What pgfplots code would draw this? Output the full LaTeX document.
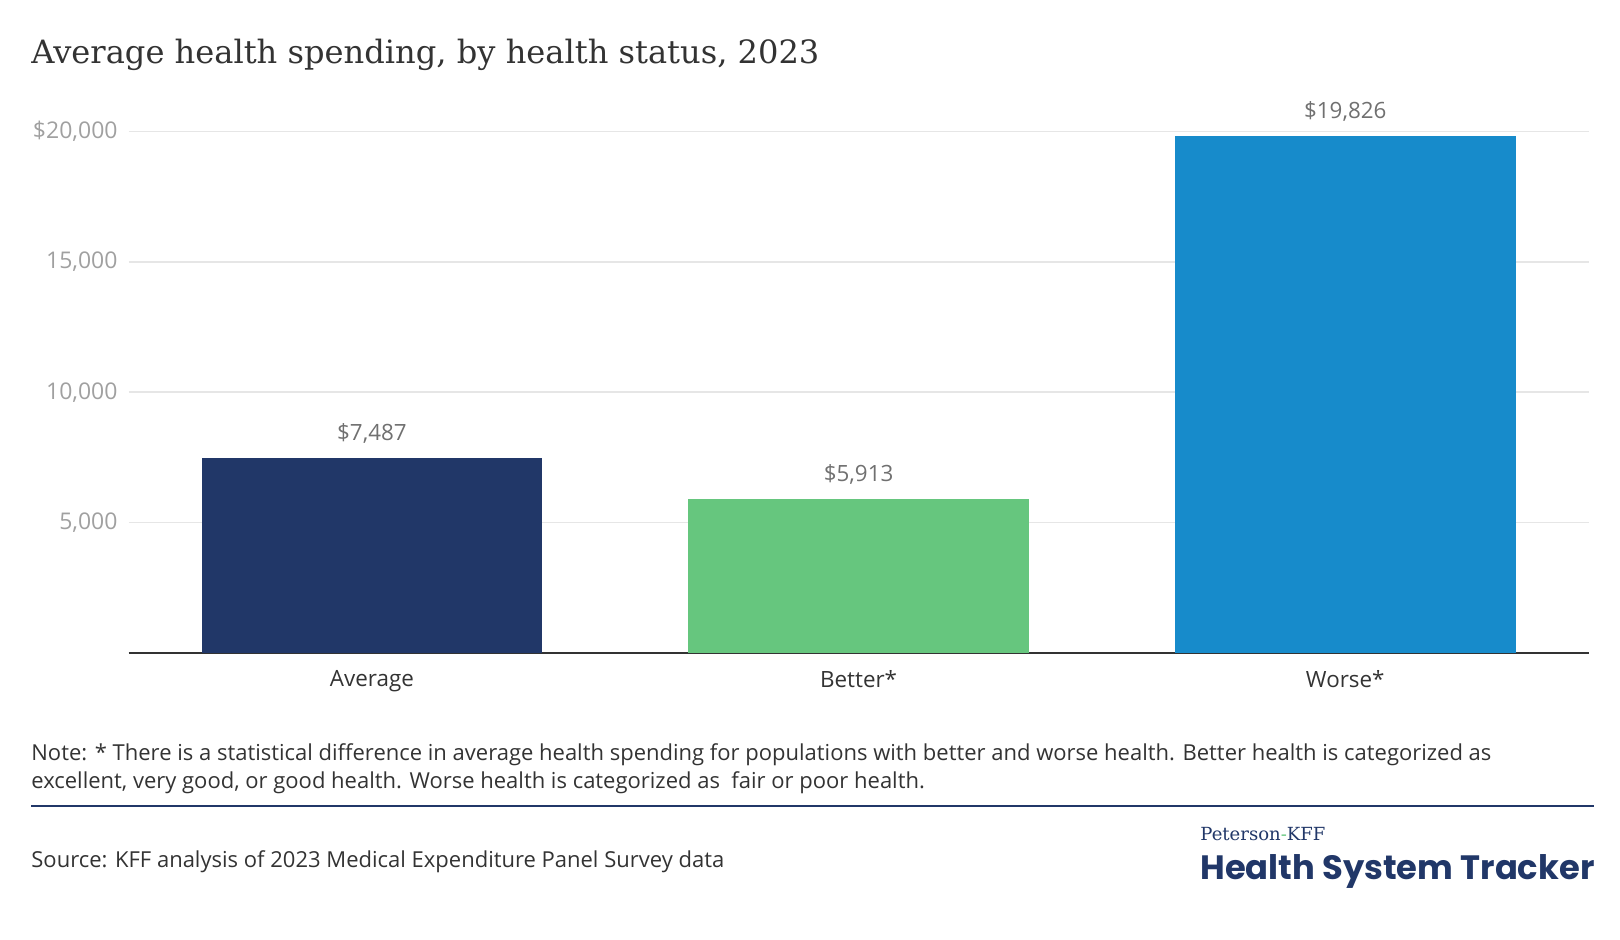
\documentclass[border=0pt]{standalone}
\usepackage{fontspec}
\setmainfont{Open Sans}
\newfontfamily\titlefont{DejaVu Serif}
\newfontfamily\logofont{Poppins}
\usepackage{pgfplots}
\pgfplotsset{compat=1.18}
\definecolor{navy}{HTML}{213768}
\definecolor{kgreen}{HTML}{66C67E}
\definecolor{kblue}{HTML}{178BCB}
\definecolor{gridgray}{HTML}{E6E6E6}
\definecolor{ticky}{HTML}{A0A0A0}
\definecolor{valgray}{HTML}{707070}
\definecolor{txt}{HTML}{333333}
\begin{document}
\begin{tikzpicture}
\path[use as bounding box] (0pt,0pt) rectangle (810pt,-470pt);
% title
\node[anchor=base west, inner sep=0, text=txt] at (15.5pt,-32pt)
  {\resizebox{394pt}{!}{\titlefont Average health spending, by health status, 2023}};
\begin{axis}[
    at={(64.3pt,-326.5pt)}, anchor=south west,
    scale only axis, width=730pt, height=260.8pt,
    ybar, bar shift=0pt, bar width=0.7,
    xmin=-0.5, xmax=2.5, ymin=0, ymax=20000,
    xtick={0,1,2}, xticklabels={Average,Better*,Worse*},
    ytick={5000,10000,15000,20000},
    yticklabels={5{,}000,10{,}000,15{,}000,\$20{,}000},
    scaled y ticks=false,
    axis x line*=bottom, axis y line*=left,
    x axis line style={line width=1pt, color=txt},
    y axis line style={draw=none},
    major tick length=0pt,
    ymajorgrids, grid style={line width=0.75pt, color=gridgray},
    yticklabel style={font=\fontsize{11.5}{13}\selectfont, text=ticky, xshift=-2pt},
    xticklabel style={font=\fontsize{11.2}{13}\selectfont, text=txt, yshift=-5pt},
    clip=false,
    nodes near coords={\$\pgfmathprintnumber[fixed,precision=0,1000 sep={,},assume math mode=true]{\pgfplotspointmeta}},
    every node near coord/.append style={font=\fontsize{11.2}{13}\selectfont, text=valgray, inner sep=0pt, yshift=7pt},
]
\addplot[fill=navy, draw=none] coordinates {(0,7487)};
\addplot[fill=kgreen, draw=none] coordinates {(1,5913)};
\addplot[fill=kblue, draw=none] coordinates {(2,19826)};
\end{axis}
% note
\node[anchor=base west, inner sep=0, text=txt, font=\fontsize{11}{13}\selectfont] at (15.5pt,-380pt)
  {Note: * There is a statistical difference in average health spending for populations with better and worse health. Better health is categorized as};
\node[anchor=base west, inner sep=0, text=txt, font=\fontsize{11}{13}\selectfont] at (15.5pt,-394pt)
  {excellent, very good, or good health. Worse health is categorized as\ \ fair or poor health.};
\draw[navy, line width=1.2pt] (15.5pt,-403pt) -- (796.8pt,-403pt);
\node[anchor=base west, inner sep=0, text=txt, font=\fontsize{11}{13}\selectfont] at (15.5pt,-433.5pt)
  {Source: KFF analysis of 2023 Medical Expenditure Panel Survey data};
% logo
\node[anchor=base west, inner sep=0, text=navy] at (600pt,-420pt)
  {\resizebox{62.5pt}{!}{\titlefont Peterson\textcolor{kgreen}{-}KFF}};
\node[anchor=base west, inner sep=0, text=navy] at (600pt,-439.5pt)
  {\resizebox{197pt}{!}{\logofont\bfseries Health System Tracker}};
\end{tikzpicture}
\end{document}
